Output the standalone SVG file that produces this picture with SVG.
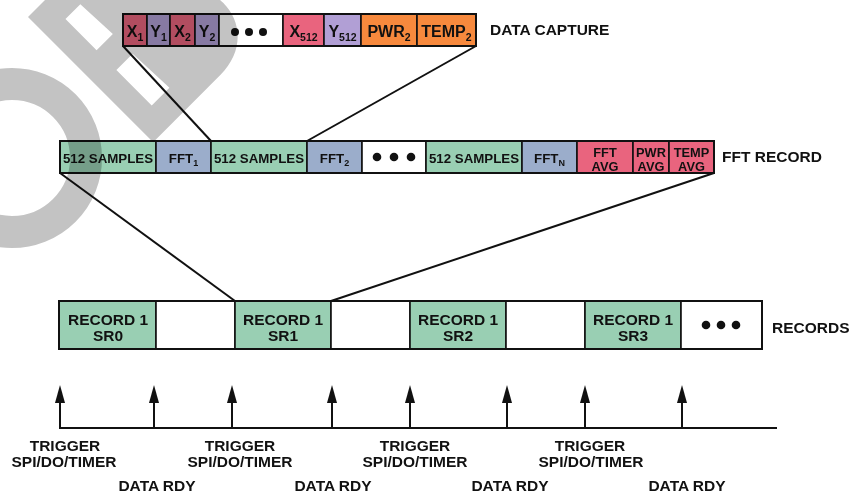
<svg xmlns="http://www.w3.org/2000/svg" width="852" height="494" viewBox="0 0 852 494">
<defs>
<style>
text{font-family:"Liberation Sans",Arial,sans-serif;font-weight:bold;fill:#111}
rect.c{stroke:#111;stroke-width:1.6}
.x{fill:#e9647e}
.y{fill:#b19fd5}
.o{fill:#f7893d}
.g{fill:#99cfb3}
.b{fill:#9badcb}
.w{fill:#fff}
.dc{font-size:16px;text-anchor:middle}
.dc .s{font-size:10.5px}
.fr{font-size:13.3px;text-anchor:middle}
.fr .s{font-size:9px}
.sm{font-size:12.8px;text-anchor:middle}
.rc{font-size:15.5px;text-anchor:middle}
.lb{font-size:15.5px}
.tl{font-size:15.5px;text-anchor:middle}
.dot{fill:#111}
.ln{stroke:#111;stroke-width:2;fill:none}
.wm{fill:#c3c3c3;mix-blend-mode:multiply}
.wr{fill:none;stroke:#c3c3c3;stroke-width:32;mix-blend-mode:multiply}
</style>
<marker id="arr" viewBox="0 0 18 10" refX="0" refY="5" markerUnits="userSpaceOnUse" markerWidth="18" markerHeight="10" orient="auto">
<path d="M0,0 L18,5 L0,10 Z" fill="#111"/>
</marker>
</defs>
<rect x="0" y="0" width="852" height="494" fill="#fff"/>

<g id="data-capture">
<g id="dc-x1"><rect class="c x" x="123" y="14" width="24" height="32"/><text class="dc" x="135" y="37">X<tspan class="s" dy="4">1</tspan></text></g>
<g id="dc-y1"><rect class="c y" x="147" y="14" width="23" height="32"/><text class="dc" x="158.5" y="37">Y<tspan class="s" dy="4">1</tspan></text></g>
<g id="dc-x2"><rect class="c x" x="170" y="14" width="25" height="32"/><text class="dc" x="182.5" y="37">X<tspan class="s" dy="4">2</tspan></text></g>
<g id="dc-y2"><rect class="c y" x="195" y="14" width="24" height="32"/><text class="dc" x="207" y="37">Y<tspan class="s" dy="4">2</tspan></text></g>
<g id="dc-dots"><rect class="c w" x="219" y="14" width="64" height="32"/><circle class="dot" cx="235" cy="32" r="4"/><circle class="dot" cx="249" cy="32" r="4"/><circle class="dot" cx="263" cy="32" r="4"/></g>
<g id="dc-x512"><rect class="c x" x="283" y="14" width="41" height="32"/><text class="dc" x="303.5" y="37">X<tspan class="s" dy="4">512</tspan></text></g>
<g id="dc-y512"><rect class="c y" x="324" y="14" width="37" height="32"/><text class="dc" x="342.5" y="37">Y<tspan class="s" dy="4">512</tspan></text></g>
<g id="dc-pwr2"><rect class="c o" x="361" y="14" width="56" height="32"/><text class="dc" x="389" y="37">PWR<tspan class="s" dy="4">2</tspan></text></g>
<g id="dc-temp2"><rect class="c o" x="417" y="14" width="59" height="32"/><text class="dc" x="446.5" y="37">TEMP<tspan class="s" dy="4">2</tspan></text></g>
<rect x="123" y="14" width="353" height="32" fill="none" stroke="#111" stroke-width="2"/>
</g>

<g id="fft-record">
<g id="fr-s1"><rect class="c g" x="60" y="141" width="96" height="32"/><text class="fr" x="108" y="163">512 SAMPLES</text></g>
<g id="fr-fft1"><rect class="c b" x="156" y="141" width="55" height="32"/><text class="fr" x="183.5" y="163">FFT<tspan class="s" dy="3">1</tspan></text></g>
<g id="fr-s2"><rect class="c g" x="211" y="141" width="96" height="32"/><text class="fr" x="259" y="163">512 SAMPLES</text></g>
<g id="fr-fft2"><rect class="c b" x="307" y="141" width="55" height="32"/><text class="fr" x="334.5" y="163">FFT<tspan class="s" dy="3">2</tspan></text></g>
<g id="fr-dots"><rect class="c w" x="362" y="141" width="64" height="32"/><circle class="dot" cx="377" cy="157" r="4.3"/><circle class="dot" cx="394" cy="157" r="4.3"/><circle class="dot" cx="411" cy="157" r="4.3"/></g>
<g id="fr-s3"><rect class="c g" x="426" y="141" width="96" height="32"/><text class="fr" x="474" y="163">512 SAMPLES</text></g>
<g id="fr-fftn"><rect class="c b" x="522" y="141" width="55" height="32"/><text class="fr" x="549.5" y="163">FFT<tspan class="s" dy="3">N</tspan></text></g>
<g id="fr-fftavg"><rect class="c x" x="577" y="141" width="56" height="32"/><text class="sm" x="605" y="156.5">FFT</text><text class="sm" x="605" y="171">AVG</text></g>
<g id="fr-pwravg"><rect class="c x" x="633" y="141" width="36" height="32"/><text class="sm" x="651" y="156.5">PWR</text><text class="sm" x="651" y="171">AVG</text></g>
<g id="fr-tempavg"><rect class="c x" x="669" y="141" width="45" height="32"/><text class="sm" x="691.5" y="156.5">TEMP</text><text class="sm" x="691.5" y="171">AVG</text></g>
<rect x="60" y="141" width="654" height="32" fill="none" stroke="#111" stroke-width="2"/>
</g>

<g id="records">
<g id="rec-sr0"><rect class="c g" x="59" y="301" width="97" height="48"/><text class="rc" x="108" y="325">RECORD 1</text><text class="rc" x="108" y="341">SR0</text></g>
<g id="rec-gap0"><rect class="c w" x="156" y="301" width="79" height="48"/></g>
<g id="rec-sr1"><rect class="c g" x="235" y="301" width="96" height="48"/><text class="rc" x="283" y="325">RECORD 1</text><text class="rc" x="283" y="341">SR1</text></g>
<g id="rec-gap1"><rect class="c w" x="331" y="301" width="79" height="48"/></g>
<g id="rec-sr2"><rect class="c g" x="410" y="301" width="96" height="48"/><text class="rc" x="458" y="325">RECORD 1</text><text class="rc" x="458" y="341">SR2</text></g>
<g id="rec-gap2"><rect class="c w" x="506" y="301" width="79" height="48"/></g>
<g id="rec-sr3"><rect class="c g" x="585" y="301" width="96" height="48"/><text class="rc" x="633" y="325">RECORD 1</text><text class="rc" x="633" y="341">SR3</text></g>
<g id="rec-dots"><rect class="c w" x="681" y="301" width="81" height="48"/><circle class="dot" cx="706" cy="325" r="4.3"/><circle class="dot" cx="721" cy="325" r="4.3"/><circle class="dot" cx="736" cy="325" r="4.3"/></g>
<rect x="59" y="301" width="703" height="48" fill="none" stroke="#111" stroke-width="2"/>
</g>

<g id="labels">
<text class="lb" x="490" y="35">DATA CAPTURE</text>
<text class="lb" x="722" y="162">FFT RECORD</text>
<text class="lb" x="772" y="333">RECORDS</text>
</g>

<g id="connectors">
<line class="ln" x1="123" y1="46" x2="211" y2="141"/>
<line class="ln" x1="476" y1="46" x2="307" y2="141"/>
<line class="ln" x1="60" y1="173" x2="235" y2="301"/>
<line class="ln" x1="714" y1="173" x2="331" y2="301"/>
</g>

<g id="timeline">
<line class="ln" x1="59" y1="428" x2="777" y2="428"/>
<line class="ln" x1="60" y1="428" x2="60" y2="403" marker-end="url(#arr)"/>
<line class="ln" x1="154" y1="428" x2="154" y2="403" marker-end="url(#arr)"/>
<line class="ln" x1="232" y1="428" x2="232" y2="403" marker-end="url(#arr)"/>
<line class="ln" x1="332" y1="428" x2="332" y2="403" marker-end="url(#arr)"/>
<line class="ln" x1="410" y1="428" x2="410" y2="403" marker-end="url(#arr)"/>
<line class="ln" x1="507" y1="428" x2="507" y2="403" marker-end="url(#arr)"/>
<line class="ln" x1="585" y1="428" x2="585" y2="403" marker-end="url(#arr)"/>
<line class="ln" x1="682" y1="428" x2="682" y2="403" marker-end="url(#arr)"/>
<text class="tl" x="65" y="451">TRIGGER</text><text class="tl" x="64" y="467">SPI/DO/TIMER</text>
<text class="tl" x="240" y="451">TRIGGER</text><text class="tl" x="240" y="467">SPI/DO/TIMER</text>
<text class="tl" x="415" y="451">TRIGGER</text><text class="tl" x="415" y="467">SPI/DO/TIMER</text>
<text class="tl" x="590" y="451">TRIGGER</text><text class="tl" x="591" y="467">SPI/DO/TIMER</text>
<text class="tl" x="157" y="491">DATA RDY</text>
<text class="tl" x="333" y="491">DATA RDY</text>
<text class="tl" x="510" y="491">DATA RDY</text>
<text class="tl" x="687" y="491">DATA RDY</text>
</g>

<g id="watermark">
<circle class="wr" cx="12" cy="158" r="74"/>
<path class="wm" fill-rule="evenodd" transform="translate(28,17) rotate(-45)" d="M0,0 H90 C125,0 140,22 140,45 C140,68 130,82 118,88 C140,95 148,110 148,128 C148,155 128,177 95,177 H0 Z M25,28 H46 L48,72 H25 Z M25,100 H48 L50,150 H25 Z"/>
</g>
</svg>
